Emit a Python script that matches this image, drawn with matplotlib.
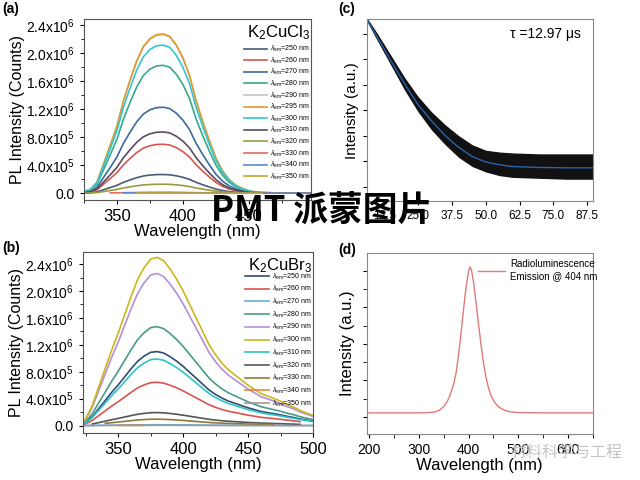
import matplotlib
matplotlib.use("Agg")
import matplotlib.pyplot as plt
from matplotlib.ticker import MultipleLocator
import numpy as np

plt.rcParams['font.family'] = ['Liberation Sans', 'DejaVu Sans']
plt.rcParams['mathtext.fontset'] = 'custom'
plt.rcParams['mathtext.rm'] = 'Liberation Sans'
plt.rcParams['mathtext.it'] = 'Liberation Sans:italic'
plt.rcParams['mathtext.bf'] = 'Liberation Sans:bold'

# ---- panel (a): K2CuCl3 PL spectra ----
ex_a = [250, 260, 270, 280, 290, 295, 300, 310, 320, 330, 340, 350]
peak_a = [0.267e6, 0.70e6, 1.23e6, 1.83e6, 2.27e6, 2.28e6, 2.12e6, 0.876e6, 0.128e6, 0.012e6, 0.006e6, 0.003e6]
start_a = [325, 325, 325, 325, 325, 325, 325, 325, 325, 345, 355, 365]
end_a = [497, 497, 497, 497, 497, 497, 497, 497, 497, 497, 497, 460]
colors_a = ['#4b5b72', '#d9534f', '#3a6a9c', '#37a88a', '#c4c4c4', '#e39a2d',
            '#33c6d2', '#5b4b5e', '#9b9a3f', '#e36b5a', '#5a8ad2', '#c9a12e']
# normalised emission profile
wl_a = [325, 330, 335, 340, 345, 350, 355, 360, 365, 370, 375, 380, 385, 390, 395,
        400, 405, 410, 415, 420, 425, 430, 435, 440, 445, 450, 455, 460, 470, 480, 497]
shape_a = [0.01, 0.025, 0.07, 0.185, 0.30, 0.42, 0.58, 0.71, 0.83, 0.92, 0.97, 0.995, 1.0, 0.985, 0.93,
           0.85, 0.74, 0.58, 0.45, 0.33, 0.22, 0.14, 0.085, 0.05, 0.03, 0.015, 0.008, 0.004, 0.002, 0.001, 0.0]

# ---- panel (b): K2CuBr3 PL spectra ----
ex_b = [250, 260, 270, 280, 290, 300, 310, 320, 330, 340, 350]
peak_b = [1.10e6, 0.644e6, 0.012e6, 1.47e6, 2.26e6, 2.50e6, 0.99e6, 0.193e6, 0.095e6, 0.003e6, 0.004e6]
start_b = [323, 323, 323, 323, 323, 323, 323, 330, 340, 348, 323]
end_b = [500, 490, 500, 500, 500, 500, 500, 490, 470, 370, 500]
colors_b = ['#2f4d72', '#d9534f', '#6aaed6', '#4a9a88', '#b58fd8', '#cdb51a',
            '#2ec4c4', '#555555', '#8a7a3a', '#e8873a', '#9a9a9a']
wl_b = [323, 325, 330, 335, 340, 345, 350, 355, 360, 365, 370, 375, 380, 385, 390, 395, 400,
        405, 410, 415, 420, 425, 430, 435, 440, 445, 450, 455, 460, 465, 470, 475, 480, 485, 490, 495, 500]
shape_b = [0.03, 0.04, 0.12, 0.23, 0.34, 0.45, 0.55, 0.66, 0.77, 0.87, 0.94, 0.99, 1.0, 0.98, 0.93, 0.87, 0.80,
           0.72, 0.64, 0.56, 0.48, 0.42, 0.37, 0.33, 0.30, 0.27, 0.24, 0.215, 0.19, 0.175, 0.16, 0.145, 0.125,
           0.11, 0.09, 0.075, 0.06]

# ---- panel (c): decay ----
t_c = [6, 10, 15, 20, 25, 30, 35, 40, 45, 50, 55, 60, 70, 80, 89.5]
fit_c = [1.00, 0.90, 0.77, 0.645, 0.53, 0.44, 0.36, 0.295, 0.245, 0.215, 0.20, 0.19, 0.185, 0.183, 0.183]
upper_c = [1.01, 0.92, 0.80, 0.68, 0.575, 0.49, 0.42, 0.36, 0.31, 0.28, 0.27, 0.265, 0.26, 0.26, 0.26]
lower_c = [0.99, 0.88, 0.745, 0.61, 0.49, 0.39, 0.31, 0.24, 0.19, 0.16, 0.14, 0.13, 0.125, 0.12, 0.12]

# ---- panel (d): radioluminescence ----
wl_d = [195, 250, 300, 320, 330, 340, 350, 355, 360, 365, 370, 375, 380, 385, 390, 395, 400, 403,
        406, 410, 415, 420, 425, 430, 435, 440, 445, 450, 455, 460, 470, 480, 490, 500, 550, 600, 650]
rl_d = [0.11, 0.11, 0.11, 0.12, 0.13, 0.17, 0.28, 0.38, 0.5, 0.68, 0.9, 1.2, 1.7, 2.3, 2.95, 3.55, 3.98, 4.11,
        4.02, 3.7, 3.15, 2.55, 2.0, 1.5, 1.1, 0.8, 0.6, 0.46, 0.36, 0.28, 0.2, 0.15, 0.13, 0.12, 0.11, 0.11, 0.11]

ytick_vals = [0, 0.4e6, 0.8e6, 1.2e6, 1.6e6, 2.0e6, 2.4e6]
ytick_txt = ['0.0', r'4.0x10$^5$', r'8.0x10$^5$', r'1.2x10$^6$', r'1.6x10$^6$', r'2.0x10$^6$', r'2.4x10$^6$']

fig = plt.figure(figsize=(6.4, 4.8), dpi=100)


def pl_panel(ax, wl, shape, ex, peaks, starts, ends, colors, title, xlim, ylim, leg_top, leg_space):
    wl = np.array(wl)
    shape = np.array(shape)
    for e, p, s, f, c in zip(ex, peaks, starts, ends, colors):
        m = (wl >= s) & (wl <= f)
        ax.plot(wl[m], p * shape[m], color=c, lw=1.2, label=r'$\lambda_{\rm em}$=%d nm' % e)
    ax.set_xlim(*xlim)
    ax.set_ylim(*ylim)
    ax.set_yticks(ytick_vals)
    ax.set_yticklabels(ytick_txt)
    ax.yaxis.set_minor_locator(MultipleLocator(0.2e6))
    ax.xaxis.set_major_locator(MultipleLocator(50))
    ax.xaxis.set_minor_locator(MultipleLocator(25))
    ax.tick_params(axis='x', labelsize=12, length=3)
    ax.tick_params(axis='y', labelsize=10, length=3)
    ax.tick_params(which='minor', length=2)
    ax.set_xlabel('Wavelength (nm)', fontsize=12, labelpad=0)
    ax.set_ylabel('PL Intensity (Counts)', fontsize=11.5, labelpad=1)
    for sp in ax.spines.values():
        sp.set_color('#555555')
    ax.text(0.995, 0.975, title, transform=ax.transAxes, ha='right', va='top', fontsize=12)
    ax.legend(loc='upper right', bbox_to_anchor=(1.0, leg_top), frameon=False, fontsize=5,
              handlelength=3.4, handletextpad=0.4, labelspacing=leg_space, borderpad=0, borderaxespad=0.2)


ax_a = fig.add_axes([0.131, 0.583, 0.355, 0.377])
pl_panel(ax_a, wl_a, shape_a, ex_a, peak_a, start_a, end_a, colors_a, r'K$_2$CuCl$_3$',
         (325, 497), (-0.1e6, 2.49e6), 0.87, 0.2)

ax_b = fig.add_axes([0.130, 0.098, 0.359, 0.377])
pl_panel(ax_b, wl_b, shape_b, ex_b, peak_b, start_b, end_b, colors_b, r'K$_2$CuBr$_3$',
         (323, 500), (-0.11e6, 2.58e6), 0.9, 0.36)

# (c)
ax_c = fig.add_axes([0.573, 0.581, 0.353, 0.379])
ax_c.fill_between(t_c, lower_c, upper_c, color='#111111', lw=0)
ax_c.plot(t_c, fit_c, color='#2a62b0', lw=1)
ax_c.set_xlim(6, 89.5)
ax_c.set_ylim(0, 1.0)
ax_c.set_xticks([12.5, 25.0, 37.5, 50.0, 62.5, 75.0, 87.5])
ax_c.set_xticklabels(['12.5', '25.0', '37.5', '50.0', '62.5', '75.0', '87.5'])
ax_c.set_yticks([0.08, 0.22, 0.36, 0.50, 0.64, 0.78, 0.92])
ax_c.set_yticklabels([])
ax_c.tick_params(labelsize=8.5, length=3)
ax_c.set_ylabel('Intensity (a.u.)', fontsize=11, labelpad=-1)
ax_c.text(0.95, 0.92, 'τ =12.97 μs', transform=ax_c.transAxes, ha='right', va='center', fontsize=10)
for sp in ax_c.spines.values():
    sp.set_color('#888888')

# (d)
ax_d = fig.add_axes([0.573, 0.096, 0.353, 0.377])
ax_d.plot(wl_d, rl_d, color='#e07a7a', lw=1, label='Radioluminescence\nEmission @ 404 nm')
ax_d.set_xlim(195, 650)
ax_d.set_ylim(-0.466, 4.49)
ax_d.xaxis.set_major_locator(MultipleLocator(100))
ax_d.xaxis.set_minor_locator(MultipleLocator(50))
ax_d.set_yticks([0, 1, 2, 3, 4])
ax_d.yaxis.set_minor_locator(MultipleLocator(0.5))
ax_d.set_yticklabels([])
ax_d.tick_params(labelsize=10, length=3)
ax_d.tick_params(which='minor', length=3)
ax_d.set_xlabel('Wavelength (nm)', fontsize=12, labelpad=1)
ax_d.set_ylabel('Intensity (a.u.)', fontsize=12, labelpad=2)
ax_d.legend(loc='upper right', bbox_to_anchor=(1.02, 0.965), frameon=False, fontsize=7,
            handlelength=2.8, handletextpad=0.5, borderpad=0, borderaxespad=0)
for sp in ax_d.spines.values():
    sp.set_color('#888888')

# panel letters
fig.text(0.003, 0.995, '(a)', fontsize=10, fontweight='bold', va='top')
fig.text(0.003, 0.497, '(b)', fontsize=10, fontweight='bold', va='top')
fig.text(0.528, 0.995, '(c)', fontsize=10, fontweight='bold', va='top')
fig.text(0.528, 0.493, '(d)', fontsize=10, fontweight='bold', va='top')

# watermarks
fig.text(0.503, 0.563, 'PMT 派蒙图片', fontsize=25, fontweight='black', ha='center', va='center',
         family=['Noto Sans CJK SC', 'DejaVu Sans'], color='black', zorder=10)
fig.text(0.885, 0.058, '材料科学与工程', fontsize=11.5, ha='center', va='center',
         family=['Noto Sans CJK SC', 'DejaVu Sans'], color='#c4c4c4', zorder=10)

fig.savefig('out.png', dpi=100)
